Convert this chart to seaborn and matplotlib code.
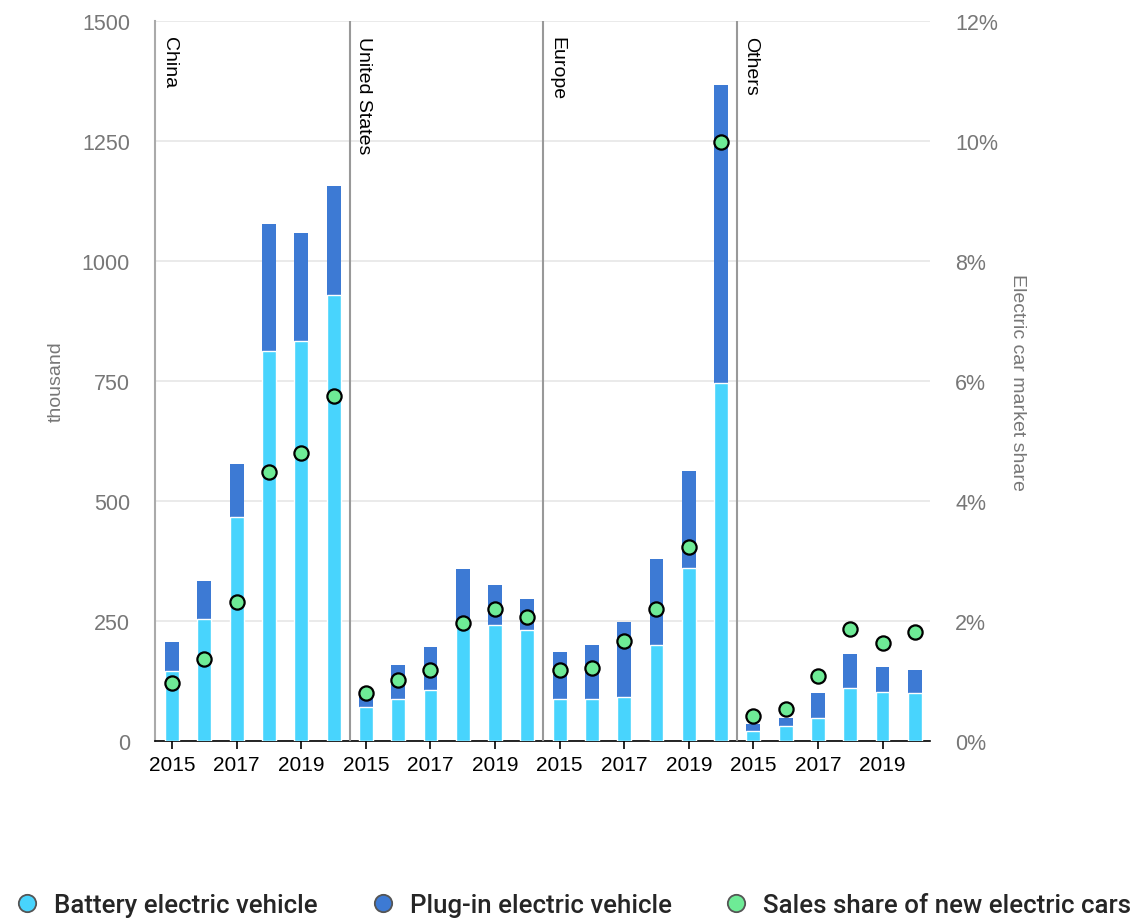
import numpy as np
import pandas as pd
import matplotlib
matplotlib.use("Agg")
import matplotlib.pyplot as plt
from matplotlib.lines import Line2D
import seaborn as sns

regions = ["China", "United States", "Europe", "Others"]
years = [2015, 2016, 2017, 2018, 2019, 2020]

bev = {
    "China":         [145, 255, 467, 813, 834, 930],
    "United States": [71, 88, 106, 246, 242, 232],
    "Europe":        [88, 88, 92, 200, 361, 746],
    "Others":        [21, 31, 48, 111, 102, 99],
}
total = {
    "China":         [206, 334, 577, 1078, 1058, 1157],
    "United States": [97, 158, 195, 359, 325, 295],
    "Europe":        [185, 201, 247, 379, 563, 1366],
    "Others":        [36, 47, 101, 182, 155, 147],
}
share = {
    "China":         [0.97, 1.37, 2.32, 4.48, 4.80, 5.75],
    "United States": [0.80, 1.02, 1.19, 1.97, 2.20, 2.06],
    "Europe":        [1.18, 1.21, 1.67, 2.20, 3.23, 9.98],
    "Others":        [0.42, 0.54, 1.08, 1.87, 1.64, 1.81],
}

left_ticks = [0, 250, 500, 750, 1000, 1250, 1500]
right_ticks = [0, 2, 4, 6, 8, 10, 12]

BEV_C = "#48d4fd"
PHEV_C = "#3d7ad4"
SHARE_C = "#6eeb96"

rows = []
for r in regions:
    for i, y in enumerate(years):
        rows.append({"region": r, "year": y, "bev": bev[r][i],
                     "total": total[r][i], "share": share[r][i]})
df = pd.DataFrame(rows)
df["pos"] = np.arange(len(df))

sns.set_theme(style="white")
plt.rcParams["font.family"] = ["Liberation Sans Narrow", "Liberation Sans", "DejaVu Sans"]
ARIAL = ["Liberation Sans", "DejaVu Sans"]

fig = plt.figure(figsize=(11.43, 9.2), dpi=100)
ax = fig.add_axes([155/1143, 1-742/920, (930-155)/1143, (742-22)/920])

order = list(df["pos"])
sns.barplot(data=df, x="pos", y="total", order=order, color=PHEV_C,
            width=0.43, saturation=1, ax=ax, edgecolor="none", zorder=2)
sns.barplot(data=df, x="pos", y="bev", order=order, color=BEV_C,
            width=0.43, saturation=1, ax=ax, edgecolor="white", linewidth=1.0, zorder=3)

ax.set_xlim(-0.53, 23.47)
ax.set_ylim(0, 1500)
ax.set_yticks(left_ticks)
ax.set_yticklabels([str(t) for t in left_ticks], color="#777777", fontsize=15.5, family=ARIAL)
ax.yaxis.grid(True, color="#e6e6e6", linewidth=1.2, zorder=0)
ax.set_axisbelow(True)
ax.tick_params(axis="y", length=0, pad=18)

xt = []
xl = []
for g in range(4):
    for k in (0, 2, 4):
        xt.append(g * 6 + k)
        xl.append(str(years[k]))
ax.set_xticks(xt)
ax.set_xticklabels(xl, fontsize=15, color="black", family=ARIAL)
ax.tick_params(axis="x", length=6, width=1.2, color="black", direction="out", pad=4, bottom=True)
ax.set_xlabel("")
ax.set_ylabel("thousand", color="#777777", fontsize=14, labelpad=12)

for s in ["top", "right"]:
    ax.spines[s].set_visible(False)
ax.spines["left"].set_color("#aaaaaa")
ax.spines["left"].set_linewidth(1.5)
ax.spines["bottom"].set_color("black")
ax.spines["bottom"].set_linewidth(1.2)

for g in range(1, 4):
    ax.axvline(g * 6 - 0.5, color="#999999", linewidth=1.5, zorder=4)
for g, r in enumerate(regions):
    ax.text(g * 6 - 0.5 + 0.16, 1468, r, rotation=-90, va="top", ha="left",
            fontsize=14, color="black", zorder=6)

ax2 = ax.twinx()
sns.scatterplot(data=df, x="pos", y="share", ax=ax2, s=105, color=SHARE_C,
                edgecolor="black", linewidth=1.6, zorder=5, legend=False)
ax2.set_ylim(0, 12)
ax2.set_yticks(right_ticks)
ax2.set_yticklabels([f"{t}%" for t in right_ticks], color="#777777", fontsize=15.5, family=ARIAL)
ax2.tick_params(axis="y", length=0, pad=18)
ax2.set_ylabel("Electric car market share", color="#777777", fontsize=14,
               rotation=-90, labelpad=20)
ax2.set_xlim(-0.53, 23.47)
for s in ["top", "right", "left", "bottom"]:
    ax2.spines[s].set_visible(False)
ax2.grid(False)

handles = [
    Line2D([], [], marker="o", linestyle="none", markersize=12.5, markerfacecolor=BEV_C,
           markeredgecolor="#555555", markeredgewidth=1.3),
    Line2D([], [], marker="o", linestyle="none", markersize=12.5, markerfacecolor=PHEV_C,
           markeredgecolor="#555555", markeredgewidth=1.3),
    Line2D([], [], marker="o", linestyle="none", markersize=12.5, markerfacecolor=SHARE_C,
           markeredgecolor="#555555", markeredgewidth=1.3),
]
labels = ["Battery electric vehicle", "Plug-in electric vehicle", "Sales share of new electric cars"]
fig.legend(handles, labels, loc="center", bbox_to_anchor=(0.5, 1-906/920), ncol=3,
           frameon=False, handletextpad=0.45, columnspacing=1.9, handlelength=1.2,
           prop={"family": ["Roboto", "Liberation Sans"], "size": 18.6, "weight": "medium"})

fig.savefig("out.png", dpi=100)
